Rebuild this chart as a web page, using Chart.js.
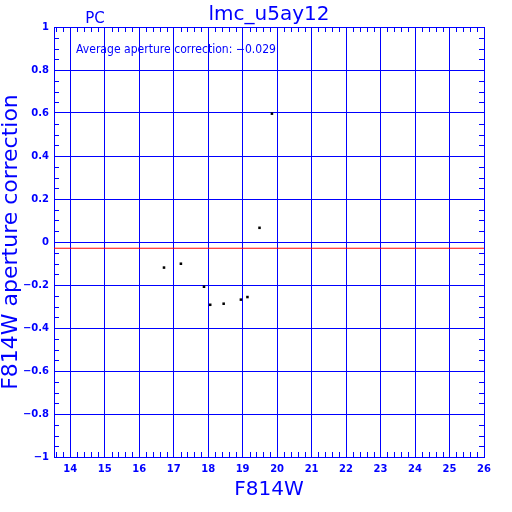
<!DOCTYPE html>
<html lang="en">
<head>
  <meta charset="UTF-8">
  <title>lmc_u5ay12</title>
  <script src="https://cdn.jsdelivr.net/npm/chart.js"></script>
  <style>
    body { margin: 0; background: #fff; }
    canvas { display: block; }
  </style>
</head>
<body>
  <canvas id="apChart" width="512" height="512"></canvas>
  <script>
    // data
    const magF814W = [16.72, 17.21, 17.88, 18.06, 18.45, 18.95, 19.14, 19.49, 19.85];
    const apCorr = [-0.119, -0.101, -0.208, -0.292, -0.287, -0.268, -0.256, 0.066, 0.597];
    const avgCorr = -0.029;
    const xRange = [13.53, 26];
    const yRange = [-1, 1];

    const blue = '#0000ff';
    const thin = '"DejaVu Sans ExtraLight", "DejaVu Sans"';

    const points = magF814W.map((m, i) => ({ x: m, y: apCorr[i] }));
    const avgLine = xRange.map(x => ({ x: x, y: avgCorr }));

    // minor ticks + header texts
    const extras = {
      id: 'extras',
      afterDraw(chart) {
        const ctx = chart.ctx;
        const a = chart.chartArea;
        const xs = chart.scales.x, ys = chart.scales.y;
        ctx.save();
        ctx.strokeStyle = blue;
        ctx.lineWidth = 1;
        ctx.beginPath();
        for (let v = 13.6; v < 26; v += 0.2) {
          if (Math.abs(v - Math.round(v)) < 0.01) continue;
          const px = Math.round(xs.getPixelForValue(v)) + 0.5;
          ctx.moveTo(px, a.top); ctx.lineTo(px, a.top + 5);
          ctx.moveTo(px, a.bottom); ctx.lineTo(px, a.bottom - 5);
        }
        for (let v = -0.95; v < 1; v += 0.05) {
          const r = Math.round(v * 20);
          if (r % 4 === 0) continue;
          const py = Math.round(ys.getPixelForValue(r / 20)) + 0.5;
          ctx.moveTo(a.left, py); ctx.lineTo(a.left + 5, py);
          ctx.moveTo(a.right, py); ctx.lineTo(a.right - 5, py);
        }
        ctx.stroke();

        ctx.fillStyle = blue;
        ctx.textBaseline = 'alphabetic';
        ctx.textAlign = 'center';
        ctx.font = '20px ' + thin;
        ctx.fillText('lmc_u5ay12', (a.left + a.right) / 2, 20);
        ctx.font = '15px ' + thin;
        ctx.fillText('PC', 95, 23);
        ctx.textAlign = 'left';
        ctx.font = '12px ' + thin;
        ctx.fillText('Average aperture correction: \u22120.029', 76, 53, 200);
        ctx.restore();
      }
    };

    const fmt = v => {
      const s = String(parseFloat(v.toFixed(1)));
      return s.replace('-', '\u2212');
    };

    new Chart(document.getElementById('apChart'), {
      type: 'scatter',
      data: {
        datasets: [
          {
            data: points,
            pointStyle: 'rect',
            pointRadius: 1.8,
            pointBorderWidth: 0,
            backgroundColor: '#000000',
            borderColor: '#000000'
          },
          {
            type: 'line',
            data: avgLine,
            borderColor: '#ff0000',
            borderWidth: 1,
            pointRadius: 0,
            fill: false
          }
        ]
      },
      options: {
        responsive: false,
        animation: false,
        layout: { padding: { top: 27, right: 28, left: 0, bottom: 0 } },
        plugins: { legend: { display: false }, tooltip: { enabled: false } },
        scales: {
          x: {
            type: 'linear',
            min: xRange[0],
            max: xRange[1],
            afterFit(s) { s.height = 55; },
            grid: { color: blue, lineWidth: 1, drawTicks: false },
            border: { color: blue, width: 1 },
            ticks: {
              stepSize: 1,
              includeBounds: false,
              padding: 6,
              color: blue,
              font: { family: 'DejaVu Sans', size: 10, weight: 'bold' },
              maxRotation: 0,
              autoSkip: false,
              callback: v => fmt(v)
            },
            title: {
              display: true,
              text: 'F814W',
              color: blue,
              font: { family: thin, size: 20 },
              padding: { top: 0, bottom: 10 }
            }
          },
          y: {
            type: 'linear',
            min: yRange[0],
            max: yRange[1],
            afterFit(s) { s.width = 54; },
            grid: { color: blue, lineWidth: 1, drawTicks: false },
            border: { color: blue, width: 1 },
            ticks: {
              stepSize: 0.2,
              padding: 5,
              color: blue,
              font: { family: 'DejaVu Sans', size: 10, weight: 'bold' },
              autoSkip: false,
              callback: v => fmt(v)
            },
            title: {
              display: true,
              text: 'F814W aperture correction',
              color: blue,
              font: { family: thin, size: 22 },
              padding: { top: -2, bottom: 0 }
            }
          }
        }
      },
      plugins: [extras]
    });
  </script>
</body>
</html>
